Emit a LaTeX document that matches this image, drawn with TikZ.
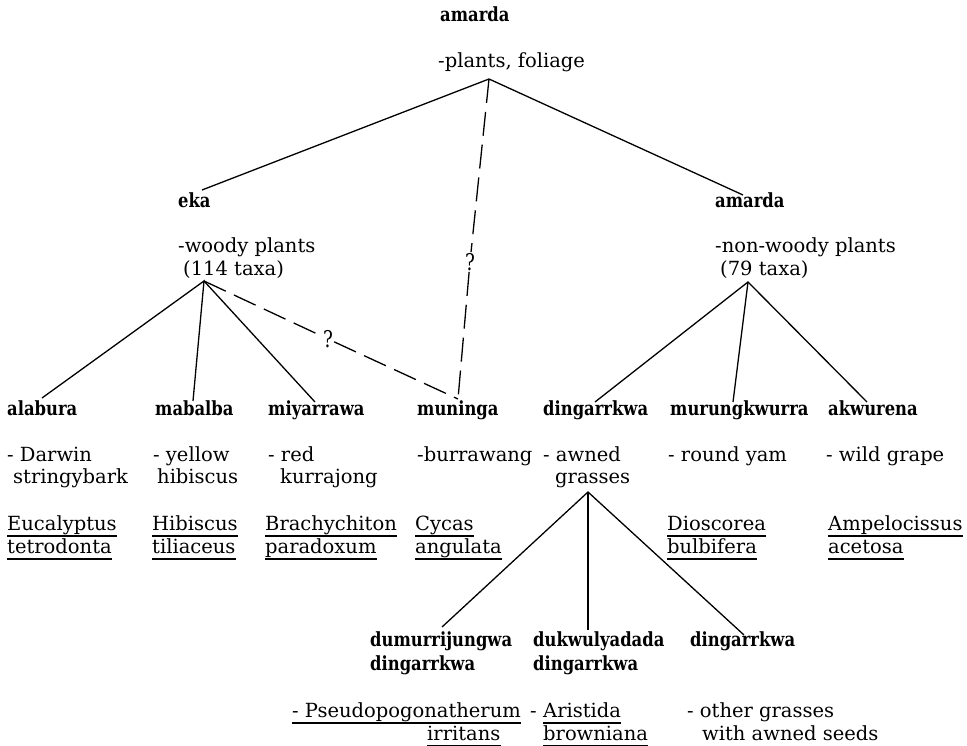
\documentclass[tikz,border=0pt]{standalone}
\usepackage{fontspec}
\setmainfont{DejaVu Serif}
\newfontfamily\boldfam{DejaVu Serif}[FakeStretch=0.84]
\newfontfamily\qfam{DejaVu Serif}[FakeStretch=0.8]
\begin{document}
\begin{tikzpicture}[x=1pt,y=-1pt,
  t/.style={anchor=base west,inner sep=0pt,font=\fontsize{19.5}{23}\selectfont},
  b/.style={anchor=base west,inner sep=0pt,font=\boldfam\bfseries\fontsize{19.5}{23}\selectfont},
  q/.style={inner sep=1pt,font=\qfam\fontsize{23}{25}\selectfont},
  ln/.style={line width=1.3pt},
  dl/.style={line width=1.3pt,dash pattern=on 24pt off 9pt},
  ul/.style={line width=1.6pt}]
\useasboundingbox (0,0) rectangle (967,746);
% top
\node[b] (top) at (440,22) {amarda};
\node[t] (plants) at (438,68) {-plants, foliage};
% level 2
\node[b] (eka) at (178,208) {eka};
\node[t] (woody1) at (178,253) {-woody plants};
\node[t] (woody2) at (183,276) {(114 taxa)};
\node[b] (amR) at (715,208) {amarda};
\node[t] (nw1) at (715,253) {-non-woody plants};
\node[t] (nw2) at (720,276) {(79 taxa)};
% row 2
\node[b] (alabura) at (7,415) {alabura};
\node[b] (mabalba) at (155,415) {mabalba};
\node[b] (miyarrawa) at (268,415) {miyarrawa};
\node[b] (muninga) at (417,415) {muninga};
\node[b] (ding) at (543,415) {dingarrkwa};
\node[b] (murung) at (670,415) {murungkwurra};
\node[b] (akwurena) at (828,415) {akwurena};
% row 3
\node[t] (darwin) at (7,461) {- Darwin};
\node[t] (stringy) at (13,483) {stringybark};
\node[t] (yellow) at (153,461) {- yellow};
\node[t] (hibis) at (157,483) {hibiscus};
\node[t] (red) at (268,461) {- red};
\node[t] (kurra) at (280,483) {kurrajong};
\node[t] (burra) at (417,461) {-burrawang};
\node[t] (awned) at (543,461) {- awned};
\node[t] (grasses) at (555,483) {grasses};
\node[t] (yam) at (668,461) {- round yam};
\node[t] (grape) at (826,461) {- wild grape};
% row 4 (species)
\node[t] (euc) at (7,530) {Eucalyptus};
\node[t] (tet) at (7,553) {tetrodonta};
\node[t] (hib) at (152,530) {Hibiscus};
\node[t] (til) at (152,553) {tiliaceus};
\node[t] (bra) at (265,530) {Brachychiton};
\node[t] (par) at (265,553) {paradoxum};
\node[t] (cyc) at (415,530) {Cycas};
\node[t] (ang) at (415,553) {angulata};
\node[t] (dio) at (667,530) {Dioscorea};
\node[t] (bul) at (667,553) {bulbifera};
\node[t] (amp) at (828,530) {Ampelocissus};
\node[t] (ace) at (828,553) {acetosa};
% row 5
\node[b] (dumu) at (370,646) {dumurrijungwa};
\node[b] (dumu2) at (370,670) {dingarrkwa};
\node[b] (dukw) at (533,646) {dukwulyadada};
\node[b] (dukw2) at (533,670) {dingarrkwa};
\node[b] (ding3) at (690,646) {dingarrkwa};
% row 6
\node[t] (pseudo) at (292,717) {- Pseudopogonatherum};
\node[t] (irr) at (427,740) {irritans};
\node[t] (aridash) at (530,717) {-};
\node[t] (ari) at (543,717) {Aristida};
\node[t] (brow) at (543,740) {browniana};
\node[t] (other) at (687,717) {- other grasses};
\node[t] (seeds) at (702,740) {with awned seeds};
% question marks
\node[q] (q1) at (328,339) {?};
\node[q] (q2) at (470,262) {?};
% connector points
\coordinate (pa) at (489,79);
\coordinate (ekaT) at (202,190);
\coordinate (amRT) at (743,195);
\coordinate (wa) at (204,281);
\coordinate (na) at (748,282);
\coordinate (ga) at (588,492);
\coordinate (alaT) at (42,398);
\coordinate (mabT) at (193,401);
\coordinate (miyT) at (315,402);
\coordinate (munT) at (458,399);
\coordinate (dinT) at (595,402);
\coordinate (murT) at (733,402);
\coordinate (akwT) at (867,402);
\coordinate (dumT) at (442,627);
\coordinate (dukT) at (588,630);
\coordinate (di3T) at (744,635);
% solid connectors
\draw[ln] (ekaT) -- (pa) -- (amRT);
\draw[ln] (alaT) -- (wa) -- (mabT);
\draw[ln] (wa) -- (miyT);
\draw[ln] (dinT) -- (na) -- (akwT);
\draw[ln] (na) -- (murT);
\draw[ln] (dumT) -- (ga) -- (di3T);
\draw[ln] (ga) -- (dukT);
% dashed connectors
\draw[dl] (pa) -- (q2) -- (munT);
\draw[dl] (wa) -- (q1) -- (munT);
% underlines
\foreach \n in {euc,tet,hib,til,bra,par,cyc,ang,dio,bul,amp,ace,pseudo,irr,ari,brow}
  \draw[ul] ([yshift=-6pt]\n.base west) -- ([yshift=-6pt]\n.base east);
\end{tikzpicture}
\end{document}
